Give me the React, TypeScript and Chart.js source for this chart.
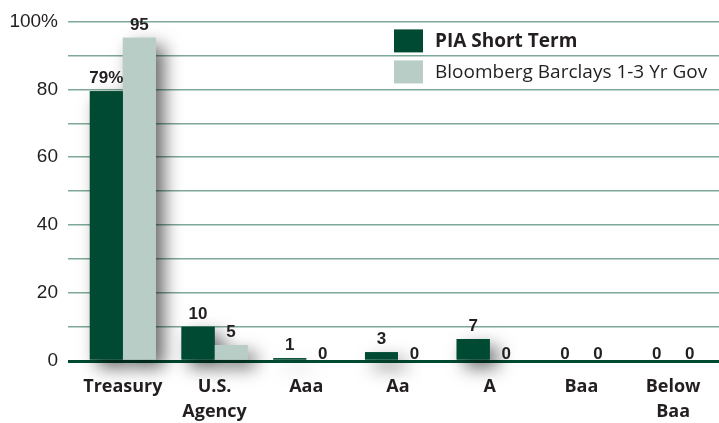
import React, { useEffect, useRef } from "react";
import { Chart, registerables } from "chart.js";

Chart.register(...registerables);

const categories: (string | string[])[] = [
  "Treasury",
  ["U.S.", "Agency"],
  "Aaa",
  "Aa",
  "A",
  "Baa",
  ["Below", "Baa"],
];
const piaShortTerm = [79.4, 10.1, 0.8, 2.6, 6.5, 0, 0];
const bloombergGov = [95.2, 4.7, 0, 0, 0, 0, 0];
const seriesNames = ["PIA Short Term", "Bloomberg Barclays 1-3 Yr Gov"];
const yTicks = [0, 20, 40, 60, 80, 100];

const DARK = "#004a33";
const LIGHT = "#b8cdc6";
const GRID = "#7fa898";
const TEXT = "#231f20";

const shadowPlugin = {
  id: "barShadow",
  beforeDatasetsDraw(chart: any) {
    const ctx = chart.ctx;
    ctx.save();
    ctx.shadowColor = "rgba(0,0,0,0.6)";
    ctx.shadowBlur = 18;
    ctx.shadowOffsetX = 8;
    ctx.shadowOffsetY = 8;
    chart.data.datasets.forEach((_: any, i: number) => {
      const meta = chart.getDatasetMeta(i);
      meta.data.forEach((el: any) => {
        if (Math.abs(el.base - el.y) > 0.5) el.draw(ctx, chart.chartArea);
      });
    });
    ctx.restore();
  },
};

const labelPlugin = {
  id: "barLabels",
  afterDatasetsDraw(chart: any) {
    const ctx = chart.ctx;
    ctx.save();
    ctx.font = "bold 17px 'Liberation Sans', Arial, sans-serif";
    ctx.fillStyle = TEXT;
    ctx.textAlign = "center";
    ctx.textBaseline = "alphabetic";
    chart.data.datasets.forEach((ds: any, i: number) => {
      const meta = chart.getDatasetMeta(i);
      meta.data.forEach((el: any, j: number) => {
        const v = Math.round(ds.data[j]);
        const txt = i === 0 && j === 0 ? v + "%" : String(v);
        ctx.fillText(txt, el.x, el.y - (ds.data[j] > 0 ? 8 : 2));
      });
    });
    ctx.restore();
  },
};

const legendPlugin = {
  id: "customLegend",
  afterDraw(chart: any) {
    const ctx = chart.ctx;
    const ca = chart.chartArea;
    const x0 = ca.left + 317;
    const y0 = ca.top + 8;
    ctx.save();
    chart.data.datasets.forEach((ds: any, i: number) => {
      const y = y0 + i * 31;
      ctx.fillStyle = ds.backgroundColor;
      ctx.fillRect(x0, y, 29, 23);
      ctx.fillStyle = TEXT;
      ctx.font = (i === 0 ? "bold " : "") + "19px 'Open Sans', sans-serif";
      ctx.textAlign = "left";
      ctx.textBaseline = "middle";
      ctx.fillText(ds.label, x0 + 41, y + 12);
    });
    ctx.restore();
  },
};

export default function App() {
  const ref = useRef<HTMLCanvasElement | null>(null);
  useEffect(() => {
    if (!ref.current) return;
    const chart = new Chart(ref.current, {
      type: "bar",
      data: {
        labels: categories,
        datasets: [
          {
            label: seriesNames[0],
            data: piaShortTerm,
            backgroundColor: DARK,
            categoryPercentage: 0.72,
            barPercentage: 1,
          },
          {
            label: seriesNames[1],
            data: bloombergGov,
            backgroundColor: LIGHT,
            categoryPercentage: 0.72,
            barPercentage: 1,
          },
        ],
      },
      options: {
        animation: false,
        responsive: false,
        maintainAspectRatio: false,
        layout: { padding: { top: 21, right: 0, left: 0, bottom: 0 } },
        plugins: {
          legend: { display: false },
          tooltip: { enabled: false },
        },
        scales: {
          x: {
            grid: { display: false, drawTicks: false },
            border: { display: false },
            ticks: {
              color: TEXT,
              padding: 13,
              font: { family: "'Open Sans', sans-serif", size: 18, weight: "bold", lineHeight: 1.42 },
            },
            afterFit: (s: any) => {
              s.height = 62;
            },
          },
          y: {
            min: 0,
            max: 100,
            grid: {
              drawTicks: true,
              tickLength: 9,
              color: (c: any) => (c.tick && c.tick.value === 0 ? DARK : GRID),
              lineWidth: (c: any) => (c.tick && c.tick.value === 0 ? 3 : 1.5),
            },
            border: { display: false },
            ticks: {
              stepSize: 10,
              color: TEXT,
              padding: 10,
              font: { family: "'Liberation Sans', Arial, sans-serif", size: 19 },
              callback: (v: any) => {
                const n = Number(v);
                if (!yTicks.includes(n)) return "";
                return n === 100 ? "100%" : String(n);
              },
            },
            afterFit: (s: any) => {
              s.width = 77;
            },
          },
        },
      },
      plugins: [shadowPlugin, labelPlugin, legendPlugin],
    });
    return () => chart.destroy();
  }, []);
  return (
    <div style={{ position: "fixed", left: 0, top: 0, width: 719, height: 423, background: "#fff" }}>
      <canvas ref={ref} width={719} height={423} style={{ display: "block" }} />
    </div>
  );
}
